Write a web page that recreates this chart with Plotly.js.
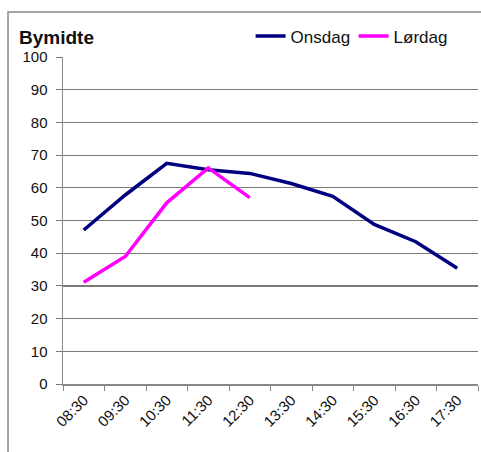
<!DOCTYPE html>
<html>
<head>
<meta charset="utf-8">
<script src="https://cdn.plot.ly/plotly-3.0.1.min.js"></script>
<style>html,body{margin:0;padding:0;background:#fff;}#chart{width:481px;height:452px;}</style>
</head>
<body>
<div id="chart"></div>
<script>
const categories = ["08:30","09:30","10:30","11:30","12:30","13:30","14:30","15:30","16:30","17:30"];
const onsdag = [47.1, 57.8, 67.5, 65.5, 64.4, 61.3, 57.4, 48.8, 43.5, 35.4];
const lordag = [31.1, 39.0, 55.4, 66.1, 57.0];
const seriesNames = ["Onsdag", "Lørdag"];
const yTicks = [0,10,20,30,40,50,60,70,80,90,100];

const font = "Liberation Sans, Arial, sans-serif";
const traces = [
  {x: categories, y: onsdag, name: seriesNames[0], type: "scatter", mode: "lines",
   line: {color: "#000080", width: 3.5}},
  {x: categories.slice(0, lordag.length), y: lordag, name: seriesNames[1], type: "scatter", mode: "lines",
   line: {color: "#FF00FF", width: 3.5}}
];
const layout = {
  width: 481, height: 452,
  margin: {l: 63, r: 3, t: 57, b: 68},
  paper_bgcolor: "#fff", plot_bgcolor: "#fff",
  font: {family: font, color: "#111", size: 15},
  showlegend: true,
  legend: {orientation: "h", x: 0.452, y: 1.063, xanchor: "left", yanchor: "middle",
           font: {family: font, size: 17, color: "#111"}, bgcolor: "rgba(0,0,0,0)",
           tracegroupgap: 0, itemwidth: 30, entrywidth: 58},
  xaxis: {type: "category", categoryorder: "array", categoryarray: categories,
          range: [-0.5, 9.5], tickson: "boundaries", ticks: "outside", ticklen: 5,
          tickcolor: "#888", showline: true, linecolor: "#888", linewidth: 1.5,
          showgrid: false, zeroline: false, tickangle: -45, fixedrange: true,
          tickfont: {family: font, size: 15, color: "#111"}},
  yaxis: {range: [0, 100], tickvals: yTicks, ticks: "outside", ticklen: 6,
          tickcolor: "#777", showline: true, linecolor: "#888", linewidth: 1.5,
          showgrid: true, gridcolor: "#7a7a7a", gridwidth: 1.2, zeroline: false,
          ticklabelstandoff: 5, fixedrange: true,
          tickfont: {family: font, size: 15, color: "#111"}},
  annotations: [{text: "<b>Bymidte</b>", xref: "paper", yref: "paper",
                 x: -0.11, y: 1.061, xanchor: "left", yanchor: "middle", showarrow: false,
                 font: {family: font, size: 19, color: "#111"}}],
  shapes: [{type: "rect", xref: "paper", yref: "paper", x0: -0.1325, x1: 1.02, y0: -0.25, y1: 1.1376,
            line: {color: "#888", width: 1.5}, fillcolor: "rgba(0,0,0,0)", layer: "below"}]
};
Plotly.newPlot("chart", traces, layout, {displayModeBar: false, staticPlot: true});
</script>
</body>
</html>
